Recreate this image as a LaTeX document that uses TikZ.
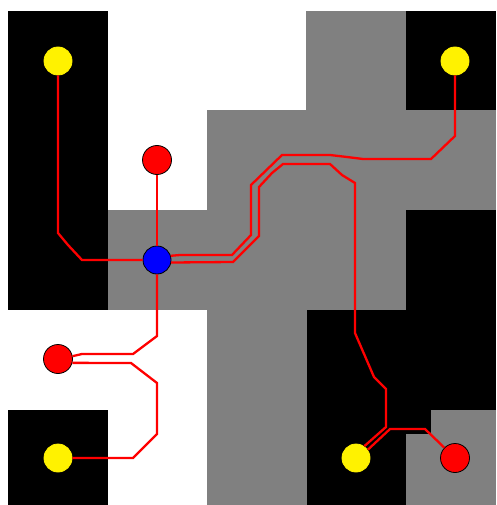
\documentclass[tikz,border=0pt]{standalone}
\begin{document}
\begin{tikzpicture}[x=1pt,y=-1pt,
  graycell/.style={fill=black!50},
  wire/.style={draw=red,line width=2.3pt,line join=miter},
  dot/.style={circle,draw=black,line width=0.8pt,inner sep=0pt,minimum size=28pt},
  ydot/.style={dot,fill=yellow,draw=yellow},
  rdot/.style={dot,fill=red,minimum size=29pt},
  bdot/.style={dot,fill=blue,minimum size=28pt}]
\useasboundingbox (0,0) rectangle (496,505);
\fill[white] (0,0) rectangle (496,505);
% gray regions
\fill[graycell] (306,11) rectangle (406,110);
\fill[graycell] (207,110) rectangle (496,210);
\fill[graycell] (107,210) rectangle (406,309.5);
\fill[graycell] (207,309.5) rectangle (306.5,505);
\fill[graycell] (406,434) rectangle (496,505);
\fill[graycell] (431,410) rectangle (496,434);
% black regions
\fill[black] (8,11) rectangle (107.5,309.5);
\fill[black] (406,11) rectangle (496,110);
\fill[black] (406,210) rectangle (496,410);
\fill[black] (306.5,309.5) rectangle (406,505);
\fill[black] (8,410) rectangle (107.5,505);
\fill[black] (406,410) rectangle (431,434);
% nodes
\node[ydot] (y1) at (58,61) {};
\node[ydot] (y2) at (455,61) {};
\node[ydot] (y3) at (58,458) {};
\node[ydot] (y4) at (356,458) {};
\node[rdot] (r1) at (157,160) {};
\node[rdot] (r2) at (58,359) {};
\node[rdot] (r3) at (455,458) {};
\node[bdot] (b) at (157,260) {};
% wires
\draw[wire] (y1) -- (58,233) -- (68,245) -- (82,260) -- (b);
\draw[wire] (r1) -- (b);
\draw[wire] (r2.11) -- (82,354) -- (133,354) -- (157,336) -- (b);
\draw[wire] (r2.-15) -- (131,363) -- (157,383) -- (157,434) -- (133,458) -- (y3);
\draw[wire] (b.17) -- (180,255) -- (232,255) -- (251,235) -- (251,185) -- (282,155)
  -- (330,155) -- (347,157) -- (363,159) -- (431,159) -- (455,136) -- (y2);
\draw[wire] (b.-10) -- (233,262) -- (259,236) -- (259,187) -- (272,173) -- (283,164)
  -- (330,164) -- (342,175) -- (355,183) -- (355,333) -- (374,377) -- (386,389)
  -- (386,427) -- (y4.55);
\draw[wire] (y4.35) -- (390,429) -- (425,429) -- (r3);
\end{tikzpicture}
\end{document}
